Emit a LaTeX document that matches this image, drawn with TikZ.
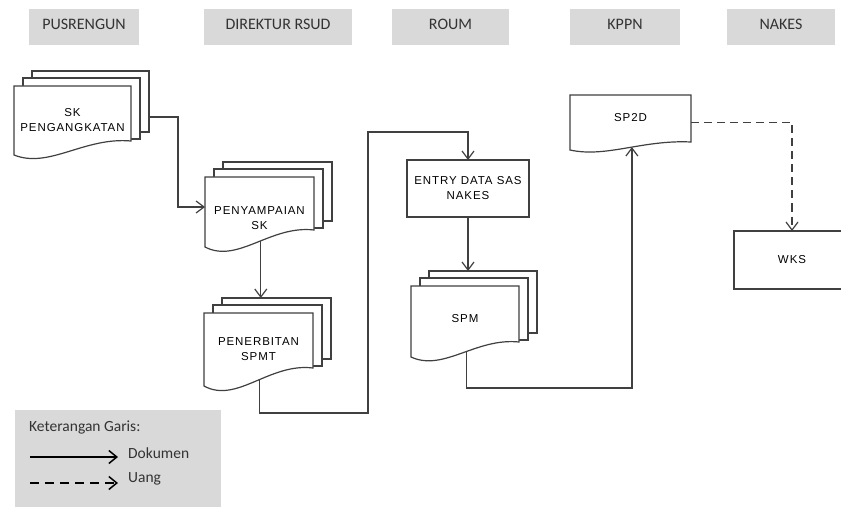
\documentclass[tikz,border=0pt]{standalone}
\usepackage{fontspec}
\setmainfont{Liberation Sans}
\newfontfamily\hdrfont{Carlito}
\newfontfamily\docfont[LetterSpace=8]{Liberation Sans}
\usetikzlibrary{arrows.meta,calc}
\definecolor{hdrgray}{HTML}{D9D9D9}
\definecolor{linegray}{HTML}{404040}
\definecolor{txtgray}{HTML}{333333}
\tikzset{
  hdr/.style={fill=hdrgray, draw=none, minimum height=36pt, inner sep=0pt, outer sep=0pt, text depth=6pt,
    font=\hdrfont\fontsize{16}{18}\selectfont, text=txtgray},
  backdoc/.style={draw=linegray, fill=white, line width=1.2pt, inner sep=0pt, outer sep=0pt, anchor=north west},
  frontdoc/.style={draw=linegray, fill=white, line width=1.2pt},
  frame/.style={inner sep=0pt, outer sep=0pt, draw=none},
  doctext/.style={font=\docfont\fontsize{11.5}{15}\selectfont, align=center, inner sep=0pt},
  procbox/.style={draw=linegray, fill=white, line width=1.2pt, inner sep=0pt, outer sep=0pt, align=center,
    font=\docfont\fontsize{11.5}{15}\selectfont},
  flow/.style={draw=linegray, line width=1.2pt, -{Straight Barb[length=8pt,width=12pt]}},
  money/.style={flow, dash pattern=on 8pt off 5pt},
  legtext/.style={font=\hdrfont\fontsize{15.5}{18}\selectfont, text=txtgray, inner sep=0pt},
  legflow/.style={draw=black, line width=1.5pt, -{Straight Barb[length=8pt,width=13pt]}},
  legmoney/.style={legflow, dash pattern=on 9pt off 6pt},
}
% #1 name, #2 x0, #3 y0, #4 w, #5 h, #6 r, #7 text, #8 text shift, #9 stacked
\newcommand\docstack[9]{%
  \pgfmathsetmacro\dsw{#4}%
  \pgfmathsetmacro\dsxr{#2+#4}%
  \pgfmathsetmacro\dsyl{#3+#5}%
  \pgfmathsetmacro\dsyr{#3+#5-#6}%
  \pgfmathsetmacro\dsbh{#5-#6+6}%
  \ifnum#9=1
    \node[backdoc, minimum width=\dsw pt, minimum height=\dsbh pt] (#1-3) at ({#2+18},{#3-15}) {};
    \node[backdoc, minimum width=\dsw pt, minimum height=\dsbh pt] (#1-2) at ({#2+9},{#3-8}) {};
  \fi
  \pgfmathsetmacro\dsca{#2+0.6*#4}%
  \pgfmathsetmacro\dscay{\dsyr-0.3*#6}%
  \pgfmathsetmacro\dscb{#2+0.3*#4}%
  \pgfmathsetmacro\dscby{\dsyl+#6}%
  \path[frontdoc] (#2,#3) -- (\dsxr,#3) -- (\dsxr,\dsyr) .. controls (\dsca,\dscay) and (\dscb,\dscby) .. (#2,\dsyl) coordinate[pos=0.45] (#1-b) -- cycle;
  \pgfmathsetmacro\dscx{#2+0.5*#4}%
  \pgfmathsetmacro\dscy{#3+0.5*#5}%
  \pgfmathsetmacro\dsty{#3+0.5*#5+(#8)}%
  \node[frame, minimum width=\dsw pt, minimum height=#5 pt] (#1) at (\dscx,\dscy) {};
  \node[doctext] (#1-t) at (\dscx,\dsty) {#7};
}
\begin{document}
\begin{tikzpicture}[x=1pt,y=-1pt]
\useasboundingbox (0,0) rectangle (841,516);
\fill[white] (0,0) rectangle (841,516);
% headers
\node[hdr, minimum width=110pt] (h1) at (84,27) {PUSRENGUN};
\node[hdr, minimum width=148pt] (h2) at (278,27) {DIREKTUR RSUD};
\node[hdr, minimum width=117pt] (h3) at (450.5,27) {ROUM};
\node[hdr, minimum width=110pt] (h4) at (625,27) {KPPN};
\node[hdr, minimum width=108pt] (h5) at (781,27) {NAKES};
% documents
\docstack{sk}{14}{86}{117}{69}{14}{SK\\PENGANGKATAN}{0}{1}
\docstack{pny}{205}{177}{109}{70}{17}{PENYAMPAIAN\\SK}{6}{1}
\docstack{pnb}{204}{313}{109}{73}{18}{PENERBITAN\\SPMT}{0}{1}
\docstack{spm}{411}{286}{108}{71}{15}{SPM}{-2.5}{1}
\docstack{sp2d}{570}{95}{121}{55}{8}{SP2D}{-4.5}{0}
% process boxes
\node[procbox, minimum width=122pt, minimum height=57pt] (entry) at (468,188.5) {ENTRY DATA SAS\\NAKES};
\node[procbox, minimum width=116pt, minimum height=58pt] (wks) at (792,260) {WKS};
% connectors
\coordinate (k1) at (178,117);
\draw[flow] ([yshift=-15.5pt]sk-3.east) -- (k1) |- ([yshift=5pt]pny.west);
\draw[flow] (pny-b) -- (pny-b |- pnb-3.north);
\coordinate (k2) at (368,413);
\coordinate (k3) at (368,132);
\draw[flow] (pnb-b) |- (k2) -- (k3) -| (entry.north);
\draw[flow] (entry.south) -- (entry.south |- spm-3.north);
\coordinate (k4) at (sp2d-b |- 0,388);
\draw[flow] (spm-b) |- (k4) -- (sp2d-b);
\draw[money] (sp2d.east) -| (wks.north);
% legend
\node[fill=hdrgray, minimum width=206pt, minimum height=97pt, inner sep=0pt, outer sep=0pt, anchor=north west] (leg) at (15,410) {};
\node[legtext, anchor=west] (legt) at (29,427) {Keterangan Garis:};
\coordinate (l1a) at (30,457);
\coordinate (l1b) at (118,457);
\draw[legflow] (l1a) -- (l1b);
\node[legtext, anchor=west] (legd) at (128,453) {Dokumen};
\coordinate (l2a) at (30,483);
\coordinate (l2b) at (118,483);
\draw[legmoney] (l2a) -- (l2b);
\node[legtext, anchor=west] (legu) at (128,479) {Uang};
\end{tikzpicture}
\end{document}
